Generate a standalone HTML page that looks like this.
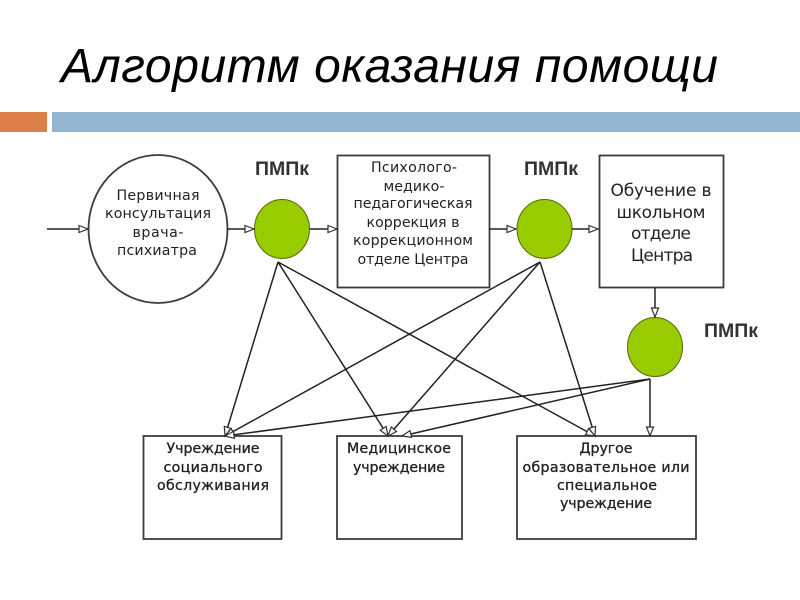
<!DOCTYPE html>
<html><head><meta charset="utf-8"><style>
html,body{margin:0;padding:0;background:#fff;width:800px;height:600px;overflow:hidden}
svg{display:block}
text{font-family:"Liberation Sans","DejaVu Sans",sans-serif;fill:#111;text-anchor:middle}
.d,.l,.b{font-family:"DejaVu Sans","Liberation Sans",sans-serif;fill:#222}
.d{font-size:14.200px}
.l{font-size:17px}
.b{font-size:14.200px;stroke:#222;stroke-width:.3}
.p{font-size:19.500px;font-weight:bold;fill:#333}
.s{filter:blur(.35px)}
</style></head><body>
<svg width="800" height="600" viewBox="0 0 800 600" xmlns="http://www.w3.org/2000/svg">
<defs><marker id="a" markerWidth="12" markerHeight="10" refX="10" refY="4.500" orient="auto" markerUnits="userSpaceOnUse"><path d="M1 1L10 4.500L1 8Z" fill="#fff" stroke="#333" stroke-width="1.200"/></marker></defs>
<text x="61" y="82" font-size="48" font-style="italic" style="text-anchor:start;fill:#000" textLength="657" lengthAdjust="spacing">Алгоритм оказания помощи</text>
<rect x="0" y="112" width="47" height="20" fill="#dd8047"/>
<rect x="52" y="112" width="748" height="20" fill="#94b6d2"/>
<g class="s">
<g fill="#fff" stroke="#3c3c3c" stroke-width="1.800">
<ellipse cx="158" cy="229" rx="69.500" ry="74"/>
<rect x="337.500" y="155.500" width="152" height="132"/>
<rect x="599.500" y="155.500" width="124" height="132"/>
<rect x="143.500" y="436" width="138" height="103"/>
<rect x="337" y="436" width="125" height="103"/>
<rect x="517" y="436" width="179" height="103"/>
</g>
<g fill="#99cc00" stroke="#556b00" stroke-width="1">
<ellipse cx="282" cy="229" rx="27.500" ry="29.500"/>
<ellipse cx="544.500" cy="229" rx="27.500" ry="29.500"/>
<ellipse cx="655" cy="347" rx="27.500" ry="29.500"/>
</g>
<g stroke="#222" stroke-width="1.500" fill="none" marker-end="url(#a)">
<path d="M47 229H88"/><path d="M227 229H254"/><path d="M310 229H337"/><path d="M489 229H516"/><path d="M572 229H598"/><path d="M655 288V317"/>
<path d="M278 262L225 436"/><path d="M278 262L388 436"/><path d="M278 262L595 436"/>
<path d="M540 262L225 436"/><path d="M540 262L388 436"/><path d="M540 262L595 436"/>
<path d="M650 379L225 436"/><path d="M650 379L402 436"/><path d="M650 379V436"/>
</g>
<text class="d" x="158" y="200" textLength="83">Первичная</text><text class="d" x="158" y="218" textLength="106">консультация</text><text class="d" x="158" y="237" textLength="51">врача-</text><text class="d" x="157" y="255" textLength="80">психиатра</text>
<text class="d" x="414" y="172" textLength="86">Психолого-</text><text class="d" x="414" y="191" textLength="61">медико-</text><text class="d" x="413" y="208" textLength="119">педагогическая</text><text class="d" x="413" y="227" textLength="93">коррекция в</text><text class="d" x="413" y="245" textLength="120">коррекционном</text><text class="d" x="413" y="264" textLength="111">отделе Центра</text>
<text class="l" x="661" y="196" textLength="101">Обучение в</text><text class="l" x="661" y="218" textLength="89">школьном</text><text class="l" x="661" y="239" textLength="60">отделе</text><text class="l" x="662" y="261" textLength="62">Центра</text>
<text class="b" x="213" y="453" textLength="93">Учреждение</text><text class="b" x="213" y="472" textLength="99">социального</text><text class="b" x="213" y="490" textLength="112">обслуживания</text>
<text class="b" x="399" y="453" textLength="104">Медицинское</text><text class="b" x="399" y="472" textLength="92">учреждение</text>
<text class="b" x="606" y="453" textLength="53">Другое</text><text class="b" x="606" y="472" textLength="167">образовательное или</text><text class="b" x="607" y="490" textLength="100">специальное</text><text class="b" x="606" y="508" textLength="92">учреждение</text>
<text class="p" x="282" y="175" textLength="54">ПМПк</text><text class="p" x="551" y="175" textLength="54">ПМПк</text><text class="p" x="731" y="337" textLength="54">ПМПк</text>
</g>
</svg>
</body></html>
